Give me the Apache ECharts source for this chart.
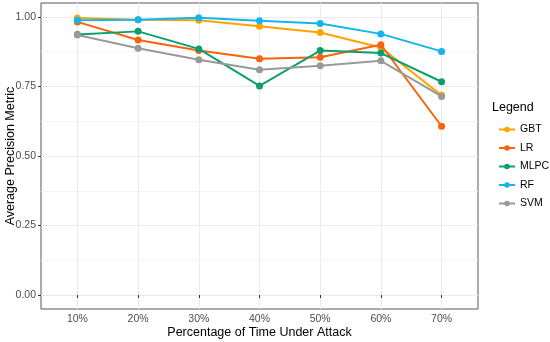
<!DOCTYPE html>
<html>
<head>
<meta charset="utf-8">
<script src="https://cdn.jsdelivr.net/npm/echarts@6/dist/echarts.min.js"></script>
<style>html,body{margin:0;padding:0;background:#fff}#c{width:550px;height:342px}</style>
</head>
<body>
<div id="c"></div>
<script>
const categories = ['10%', '20%', '30%', '40%', '50%', '60%', '70%'];
const seriesNames = ['GBT', 'LR', 'MLPC', 'RF', 'SVM'];
const GBT  = [0.996, 0.990, 0.988, 0.966, 0.944, 0.890, 0.718];
const LR   = [0.982, 0.917, 0.879, 0.850, 0.855, 0.900, 0.607];
const MLPC = [0.937, 0.948, 0.885, 0.752, 0.879, 0.870, 0.767];
const RF   = [0.988, 0.990, 0.997, 0.986, 0.976, 0.939, 0.876];
const SVM  = [0.935, 0.887, 0.846, 0.810, 0.824, 0.842, 0.714];
const yTicks = [0, 0.25, 0.5, 0.75, 1.0];
const yMinor = [0.125, 0.375, 0.625, 0.875];
const colors = ['#FFA300', '#F9620F', '#0C9E6E', '#12B5EE', '#999999'];

const values = [GBT, LR, MLPC, RF, SVM];
const xPos = categories.map((c, i) => i + 1);
const font = 'Liberation Sans, Arial, sans-serif';

const chart = echarts.init(document.getElementById('c'));
chart.setOption({
  animation: false,
  backgroundColor: '#fff',
  grid: { left: 41, right: 72, top: 3, bottom: 33, containLabel: false, outerBoundsMode: 'none',
    show: true, borderColor: '#595959', borderWidth: 1, backgroundColor: 'transparent' },
  xAxis: {
    type: 'value', min: 0.4, max: 7.6,
    name: 'Percentage of Time Under Attack', nameLocation: 'middle', nameGap: 17, nameMoveOverlap: false,
    nameTextStyle: { color: '#000', fontSize: 12.5, fontFamily: font },
    axisLine: { show: false },
    axisTick: { show: true, length: 3, lineStyle: { color: '#333' }, customValues: xPos },
    axisLabel: { color: '#4D4D4D', fontSize: 10.5, fontFamily: font, margin: 5, customValues: xPos,
      formatter: v => categories[Math.round(v) - 1] || '' },
    splitLine: { show: true, lineStyle: { color: '#EBEBEB', width: 1 } }
  },
  yAxis: [{
    type: 'value', min: -0.05, max: 1.05,
    name: 'Average Precision Metric', nameLocation: 'middle', nameGap: 24, nameMoveOverlap: false,
    nameTextStyle: { color: '#000', fontSize: 12.5, fontFamily: font },
    axisLine: { show: false },
    axisTick: { show: true, length: 3, lineStyle: { color: '#333' }, customValues: yTicks },
    axisLabel: { color: '#4D4D4D', fontSize: 10.5, fontFamily: font, margin: 5, customValues: yTicks,
      formatter: v => v.toFixed(2) },
    splitLine: { show: true, lineStyle: { color: '#EBEBEB', width: 1 } }
  }, {
    type: 'value', min: -0.05, max: 1.05, position: 'left',
    axisLine: { show: false },
    axisTick: { show: false, customValues: yMinor },
    axisLabel: { show: false, customValues: yMinor },
    splitLine: { show: true, lineStyle: { color: '#F4F4F4', width: 1 } }
  }],
  legend: {
    orient: 'vertical', left: 493, top: 119,
    itemWidth: 16, itemHeight: 7, itemGap: 7.5,
    textStyle: { color: '#000', fontSize: 10.5, fontFamily: font },
    data: seriesNames
  },
  graphic: [{
    type: 'text', left: 492, top: 101,
    style: { text: 'Legend', fill: '#000', font: '12.5px ' + font }
  }],
  series: seriesNames.map((n, k) => ({
    name: n, type: 'line', yAxisIndex: 0,
    data: values[k].map((v, i) => [xPos[i], v]),
    symbol: 'circle', symbolSize: 7,
    lineStyle: { width: 2, color: colors[k] },
    itemStyle: { color: colors[k] },
    z: 2 + k
  }))
});
</script>
</body>
</html>
